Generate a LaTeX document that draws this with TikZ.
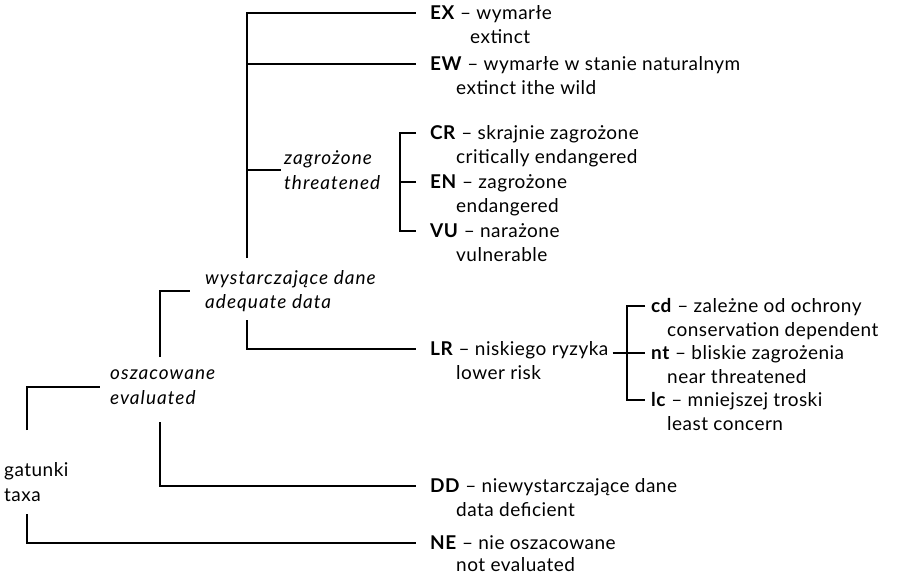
\documentclass[tikz,border=0pt]{standalone}
\usepackage{fontspec}
\setmainfont{Lato}[LetterSpace=2.5, ItalicFeatures={LetterSpace=5.5}]
\usetikzlibrary{positioning,calc}

\begin{document}
\begin{tikzpicture}[
    x=1pt, y=-1pt,
    lbl/.style={anchor=base west, inner sep=0pt, font=\fontsize{19}{24.5}\selectfont},
    gloss/.style={lbl},
    cat/.style={anchor=west, align=left, inner sep=0pt, font=\fontsize{19}{24.5}\selectfont\itshape},
    branch/.style={line width=2.8pt}
]
\useasboundingbox (0,0) rectangle (902,574);

% groups
\node[cat, font=\fontsize{19}{24.5}\selectfont] (taxa) at (4,482) {gatunki\\taxa};
\node[cat] (evaluated) at (110,387) {oszacowane\\evaluated};
\node[cat] (adequate) at (205,291) {wystarczające dane\\adequate data};
\node[cat] (threatened) at (284,170) {zagrożone\\threatened};

% categories
\node[lbl] (ex) at (430,19) {\textbf{EX} -- wymarłe};
\node[gloss] (ex-en) at ([xshift=40pt,yshift=-24.5pt]ex.base west) {extinct};
\node[lbl] (ew) at (430,70) {\textbf{EW} -- wymarłe w stanie naturalnym};
\node[gloss] (ew-en) at ([xshift=26pt,yshift=-24.5pt]ew.base west) {extinct ithe wild};
\node[lbl] (cr) at (430,139) {\textbf{CR} -- skrajnie zagrożone};
\node[gloss] (cr-en) at ([xshift=26pt,yshift=-24.5pt]cr.base west) {critically endangered};
\node[lbl] (en) at (430,188) {\textbf{EN} -- zagrożone};
\node[gloss] (en-en) at ([xshift=26pt,yshift=-24.5pt]en.base west) {endangered};
\node[lbl] (vu) at (430,237) {\textbf{VU} -- narażone};
\node[gloss] (vu-en) at ([xshift=26pt,yshift=-24.5pt]vu.base west) {vulnerable};
\node[lbl] (lr) at (430,355) {\textbf{LR} -- niskiego ryzyka};
\node[gloss] (lr-en) at ([xshift=26pt,yshift=-24.5pt]lr.base west) {lower risk};
\node[lbl] (cd) at (651,312) {\textbf{cd} -- zależne od ochrony};
\node[gloss] (cd-en) at ([xshift=16pt,yshift=-24.5pt]cd.base west) {conservation dependent};
\node[lbl] (nt) at (651,359) {\textbf{nt} -- bliskie zagrożenia};
\node[gloss] (nt-en) at ([xshift=16pt,yshift=-24.5pt]nt.base west) {near threatened};
\node[lbl] (lc) at (651,406) {\textbf{lc} -- mniejszej troski};
\node[gloss] (lc-en) at ([xshift=16pt,yshift=-24.5pt]lc.base west) {least concern};
\node[lbl] (dd) at (430,492) {\textbf{DD} -- niewystarczające dane};
\node[gloss] (dd-en) at ([xshift=26pt,yshift=-24.5pt]dd.base west) {data deficient};
\node[lbl] (ne) at (430,549) {\textbf{NE} -- nie oszacowane};
\node[gloss] (ne-en) at ([xshift=26pt,yshift=-22pt]ne.base west) {not evaluated};

% tick points
\coordinate (ex-t) at ([xshift=-14pt,yshift=6pt]ex.base west);
\coordinate (ew-t) at ([xshift=-14pt,yshift=6pt]ew.base west);
\coordinate (cr-t) at ([xshift=-14pt,yshift=6pt]cr.base west);
\coordinate (en-t) at ([xshift=-14pt,yshift=6pt]en.base west);
\coordinate (vu-t) at ([xshift=-14pt,yshift=6pt]vu.base west);
\coordinate (lr-t) at ([xshift=-14pt,yshift=6pt]lr.base west);
\coordinate (cd-t) at ([xshift=-6pt,yshift=6pt]cd.base west);
\coordinate (nt-t) at ([xshift=-6pt,yshift=6pt]nt.base west);
\coordinate (lc-t) at ([xshift=-6pt,yshift=6pt]lc.base west);
\coordinate (dd-t) at ([xshift=-14pt,yshift=6pt]dd.base west);
\coordinate (ne-t) at ([xshift=-14pt,yshift=6pt]ne.base west);

\coordinate (taxa-up) at (27,430);
\coordinate (taxa-down) at (27,514);
\coordinate (ev-up) at (160,357);
\coordinate (ev-down) at (160,422);
\coordinate (ad-up) at (247,258);
\coordinate (ad-down) at (247,320);

% brackets
\draw[branch] (taxa-up) |- ([xshift=-10pt]evaluated.west);
\draw[branch] (taxa-down) |- (ne-t);
\draw[branch] (ev-up) |- ([xshift=-15pt]adequate.west);
\draw[branch] (ev-down) |- (dd-t);
\draw[branch] (ad-up) |- (ex-t);
\draw[branch] (ad-up |- ew-t) -- (ew-t);
\draw[branch] (ad-up |- threatened.west) -- ([xshift=-3pt]threatened.west);
\draw[branch] (ad-down) |- (lr-t);
\draw[branch] (cr-t) -- ++(-16,0) |- (vu-t);
\draw[branch] (en-t) -- ++(-16,0);
\draw[branch] ([xshift=4pt]lr.east |- nt-t) -- (nt-t);
\draw[branch] (cd-t) -- ++(-18,0) |- (lc-t);
\end{tikzpicture}
\end{document}
